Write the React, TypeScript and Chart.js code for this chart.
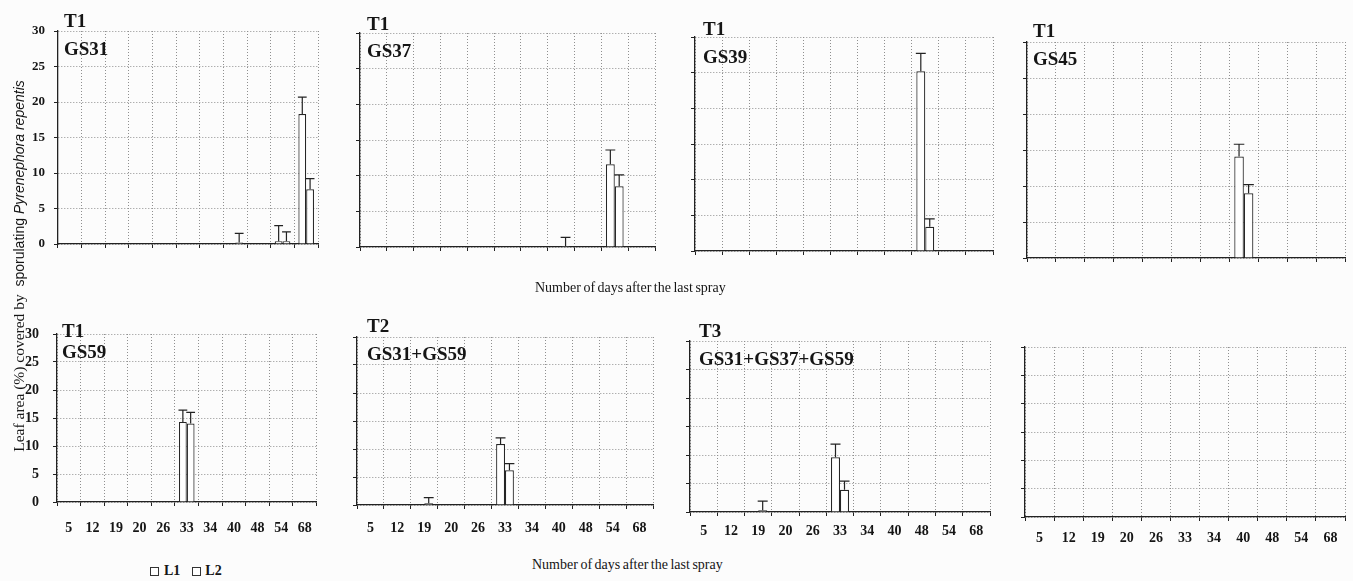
import React, { useEffect, useRef } from 'react';
import { Chart, registerables } from 'chart.js';

Chart.register(...registerables);

// ---------- data ----------
const days = ['5', '12', '19', '20', '26', '33', '34', '40', '48', '54', '68'];
const yMin = 0;
const yMax = 30;
const yStep = 5;

const n = null;
// T1 GS31
const gs31L1 = [n, n, n, n, n, n, n, n, n, 0.4, 18.3];
const gs31L2 = [n, n, n, n, n, n, n, 0.2, n, 0.4, 7.7];
const gs31L1Err = [n, n, n, n, n, n, n, n, n, 2.2, 2.4];
const gs31L2Err = [n, n, n, n, n, n, n, 1.3, n, 1.3, 1.5];
// T1 GS37
const gs37L1 = [n, n, n, n, n, n, n, n, n, 11.6, n];
const gs37L2 = [n, n, n, n, n, n, n, 0.15, n, 8.5, n];
const gs37L1Err = [n, n, n, n, n, n, n, n, n, 2.0, n];
const gs37L2Err = [n, n, n, n, n, n, n, 1.2, n, 1.6, n];
// T1 GS39
const gs39L1 = [n, n, n, n, n, n, n, n, 25.2, n, n];
const gs39L2 = [n, n, n, n, n, n, n, n, 3.4, n, n];
const gs39L1Err = [n, n, n, n, n, n, n, n, 2.5, n, n];
const gs39L2Err = [n, n, n, n, n, n, n, n, 1.1, n, n];
// T1 GS45
const gs45L1 = [n, n, n, n, n, n, n, 14.1, n, n, n];
const gs45L2 = [n, n, n, n, n, n, n, 9.0, n, n, n];
const gs45L1Err = [n, n, n, n, n, n, n, 1.7, n, n, n];
const gs45L2Err = [n, n, n, n, n, n, n, 1.2, n, n, n];
// T1 GS59
const gs59L1 = [n, n, n, n, n, 14.3, n, n, n, n, n];
const gs59L2 = [n, n, n, n, n, 14.0, n, n, n, n, n];
const gs59L1Err = [n, n, n, n, n, 2.1, n, n, n, n, n];
const gs59L2Err = [n, n, n, n, n, 2.0, n, n, n, n, n];
// T2 GS31+GS59
const t2L1 = [n, n, n, n, n, 10.9, n, n, n, n, n];
const t2L2 = [n, n, 0.3, n, n, 6.2, n, n, n, n, n];
const t2L1Err = [n, n, n, n, n, 1.1, n, n, n, n, n];
const t2L2Err = [n, n, 1.0, n, n, 1.2, n, n, n, n, n];
// T3 GS31+GS37+GS59
const t3L1 = [n, n, n, n, n, 9.6, n, n, n, n, n];
const t3L2 = [n, n, 0.3, n, n, 3.9, n, n, n, n, n];
const t3L1Err = [n, n, n, n, n, 2.3, n, n, n, n, n];
const t3L2Err = [n, n, 1.6, n, n, 1.5, n, n, n, n, n];
// empty panel
const emptyL1 = [n, n, n, n, n, n, n, n, n, n, n];
const emptyL2 = [n, n, n, n, n, n, n, n, n, n, n];

const seriesNames = ['L1', 'L2'];
const axisTitle1 = 'Leaf area (%) covered by\u00a0\u00a0';
const axisTitle2 = 'sporulating ';
const axisTitle3 = 'Pyrenephora repentis';
const xTitle = 'Number of days after the last spray';

// ---------- layout / style ----------
const SERIF_NAME = 'Liberation Serif';
const SERIF = `"${SERIF_NAME}", "Times New Roman", Times, serif`;
const INK = '#151515';
const PAD_T = 30;
const PAD_R = 6;
const PAD_B = 42;

Chart.defaults.font.family = SERIF;

type PanelCfg = {
  L: number; T: number; R: number; B: number;
  padL: number;
  tLabel?: string; gsLabel?: string;
  tDy: number; gsDy: number; dx: number;
  showX: boolean; showY: boolean;
  xPad: number; yPad: number; yFont: number;
  l1: (number | null)[]; l2: (number | null)[];
  e1: (number | null)[]; e2: (number | null)[];
};

const panels: PanelCfg[] = [
  { L: 58, T: 31, R: 318, B: 244, padL: 56, tLabel: 'T1', gsLabel: 'GS31', tDy: -4, gsDy: 24, dx: 6, showX: false, showY: true, xPad: 10, yPad: 9, yFont: 13, l1: gs31L1, l2: gs31L2, e1: gs31L1Err, e2: gs31L2Err },
  { L: 360, T: 33, R: 655, B: 247, padL: 12, tLabel: 'T1', gsLabel: 'GS37', tDy: -3, gsDy: 24, dx: 7, showX: false, showY: false, xPad: 10, yPad: 9, yFont: 13, l1: gs37L1, l2: gs37L2, e1: gs37L1Err, e2: gs37L2Err },
  { L: 695, T: 37, R: 993, B: 251, padL: 12, tLabel: 'T1', gsLabel: 'GS39', tDy: -2, gsDy: 26, dx: 8, showX: false, showY: false, xPad: 10, yPad: 9, yFont: 13, l1: gs39L1, l2: gs39L2, e1: gs39L1Err, e2: gs39L2Err },
  { L: 1027, T: 42, R: 1345, B: 258, padL: 12, tLabel: 'T1', gsLabel: 'GS45', tDy: -5, gsDy: 23, dx: 6, showX: false, showY: false, xPad: 10, yPad: 9, yFont: 13, l1: gs45L1, l2: gs45L2, e1: gs45L1Err, e2: gs45L2Err },
  { L: 57, T: 334, R: 320, B: 502, padL: 56, tLabel: 'T1', gsLabel: 'GS59', tDy: 3, gsDy: 24, dx: 5, showX: true, showY: true, xPad: 14, yPad: 14, yFont: 14, l1: gs59L1, l2: gs59L2, e1: gs59L1Err, e2: gs59L2Err },
  { L: 357, T: 337, R: 653, B: 505, padL: 12, tLabel: 'T2', gsLabel: 'GS31+GS59', tDy: -5, gsDy: 23, dx: 10, showX: true, showY: false, xPad: 11, yPad: 9, yFont: 13, l1: t2L1, l2: t2L2, e1: t2L1Err, e2: t2L2Err },
  { L: 690, T: 341, R: 990, B: 512, padL: 12, tLabel: 'T3', gsLabel: 'GS31+GS37+GS59', tDy: -4, gsDy: 24, dx: 9, showX: true, showY: false, xPad: 7, yPad: 9, yFont: 13, l1: t3L1, l2: t3L2, e1: t3L1Err, e2: t3L2Err },
  { L: 1025, T: 347, R: 1345, B: 517, padL: 12, tDy: -4, gsDy: 24, dx: 8, showX: true, showY: false, xPad: 9, yPad: 9, yFont: 13, l1: emptyL1, l2: emptyL2, e1: emptyL1, e2: emptyL2 },
];

const errorBarPlugin = {
  id: 'errorBars',
  afterDatasetsDraw(chart: any) {
    const { ctx } = chart;
    const yScale = chart.scales.y;
    ctx.save();
    ctx.strokeStyle = '#222';
    ctx.lineWidth = 1.2;
    chart.data.datasets.forEach((ds: any, i: number) => {
      const meta = chart.getDatasetMeta(i);
      const errs = ds.errorBars || [];
      meta.data.forEach((bar: any, j: number) => {
        const v = ds.data[j];
        const e = errs[j];
        if (v == null || e == null) return;
        const x = bar.x;
        const yTop = yScale.getPixelForValue(v + e);
        const y0 = yScale.getPixelForValue(v);
        const half = Math.max(3.5, bar.width / 2 + 0.5);
        ctx.beginPath();
        ctx.moveTo(x, y0);
        ctx.lineTo(x, yTop);
        ctx.moveTo(x - half, yTop);
        ctx.lineTo(x + half, yTop);
        ctx.stroke();
      });
    });
    ctx.restore();
  },
};

const panelTitlePlugin = {
  id: 'panelTitles',
  afterDraw(chart: any, _args: any, opts: any) {
    const { ctx, chartArea } = chart;
    ctx.save();
    ctx.fillStyle = INK;
    ctx.font = `bold 19px ${SERIF}`;
    ctx.textBaseline = 'alphabetic';
    ctx.textAlign = 'left';
    if (opts.t) ctx.fillText(opts.t, chartArea.left + opts.dx, chartArea.top + opts.tDy);
    if (opts.gs) ctx.fillText(opts.gs, chartArea.left + opts.dx, chartArea.top + opts.gsDy);
    ctx.restore();
  },
};

function Panel({ cfg }: { cfg: PanelCfg }) {
  const ref = useRef<HTMLCanvasElement>(null);
  useEffect(() => {
    if (!ref.current) return;
    const barStyle = {
      backgroundColor: '#ffffff',
      borderColor: '#262626',
      borderWidth: 1.2,
      categoryPercentage: 0.66,
      barPercentage: 1,
    };
    const chart = new Chart(ref.current, {
      type: 'bar',
      data: {
        labels: days,
        datasets: [
          { label: seriesNames[0], data: cfg.l1, errorBars: cfg.e1, ...barStyle } as any,
          { label: seriesNames[1], data: cfg.l2, errorBars: cfg.e2, ...barStyle } as any,
        ],
      },
      options: {
        animation: false,
        responsive: true,
        maintainAspectRatio: false,
        layout: { padding: { top: PAD_T, right: PAD_R, left: 0, bottom: 0 } },
        plugins: {
          legend: { display: false },
          tooltip: { enabled: false },
          panelTitles: { t: cfg.tLabel, gs: cfg.gsLabel, tDy: cfg.tDy, gsDy: cfg.gsDy, dx: cfg.dx },
        } as any,
        scales: {
          x: {
            type: 'category',
            offset: true,
            grid: {
              offset: true,
              color: '#8f8f8f',
              lineWidth: 1,
              drawTicks: true,
              tickLength: 4,
              tickColor: '#222',
              tickWidth: 1,
            },
            border: { display: true, color: '#222', width: 1.3, dash: [1, 2] },
            ticks: {
              display: cfg.showX,
              color: INK,
              font: { family: SERIF, size: 14, weight: 'bold' },
              padding: cfg.xPad,
              maxRotation: 0,
              autoSkip: false,
            },
            afterFit: (s: any) => { s.height = PAD_B; },
          },
          y: {
            min: yMin,
            max: yMax,
            grid: {
              color: '#8f8f8f',
              lineWidth: 1,
              drawTicks: true,
              tickLength: 4,
              tickColor: '#222',
              tickWidth: 1,
            },
            border: { display: true, color: '#222', width: 1.3, dash: [1, 2] },
            ticks: {
              stepSize: yStep,
              display: cfg.showY,
              color: INK,
              font: { family: SERIF, size: cfg.yFont, weight: 'bold' },
              padding: cfg.yPad,
            },
            afterFit: (s: any) => { s.width = cfg.padL; },
          },
        },
      } as any,
      plugins: [errorBarPlugin, panelTitlePlugin],
    });
    return () => { chart.destroy(); };
  }, [cfg]);

  const style: React.CSSProperties = {
    position: 'absolute',
    left: cfg.L - cfg.padL,
    top: cfg.T - PAD_T,
    width: cfg.R - cfg.L + cfg.padL + PAD_R,
    height: cfg.B - cfg.T + PAD_T + PAD_B,
  };
  return (
    <div style={style}>
      <canvas ref={ref} />
    </div>
  );
}

const textStyle: React.CSSProperties = {
  position: 'absolute',
  fontFamily: SERIF,
  color: INK,
  whiteSpace: 'nowrap',
};

export default function App() {
  return (
    <div style={{ position: 'absolute', left: 0, top: 0, width: 1353, height: 581, background: '#fcfcfc', overflow: 'hidden' }}>
      {panels.map((p, i) => (
        <Panel key={i} cfg={p} />
      ))}
      {/* y-axis title */}
      <div
        style={{
          ...textStyle,
          left: 19 - 210,
          top: 266 - 9,
          width: 420,
          height: 18,
          lineHeight: '18px',
          fontSize: 15.5,
          textAlign: 'center',
          transform: 'rotate(-90deg)',
        }}
      >
        <span>{axisTitle1}</span>
        <span style={{ fontFamily: '"Liberation Sans", Arial, sans-serif', fontSize: 14 }}>{axisTitle2}</span>
        <span style={{ fontFamily: '"Liberation Sans", Arial, sans-serif', fontSize: 14, fontStyle: 'italic' }}>{axisTitle3}</span>
      </div>
      {/* x-axis titles */}
      <div style={{ ...textStyle, left: 535, top: 280, fontSize: 14, lineHeight: '16px', wordSpacing: -1 }}>{xTitle}</div>
      <div style={{ ...textStyle, left: 532, top: 557, fontSize: 14, lineHeight: '16px', wordSpacing: -1 }}>{xTitle}</div>
      {/* legend */}
      <div style={{ ...textStyle, left: 150, top: 563, fontSize: 14, fontWeight: 'bold', lineHeight: '16px', display: 'flex', alignItems: 'center' }}>
        <span style={{ display: 'inline-block', width: 7, height: 7, border: '1px solid #333', background: '#fff', marginRight: 5 }} />
        <span>{seriesNames[0]}</span>
        <span style={{ display: 'inline-block', width: 7, height: 7, border: '1px solid #333', background: '#fff', marginLeft: 12, marginRight: 4 }} />
        <span>{seriesNames[1]}</span>
      </div>
    </div>
  );
}
